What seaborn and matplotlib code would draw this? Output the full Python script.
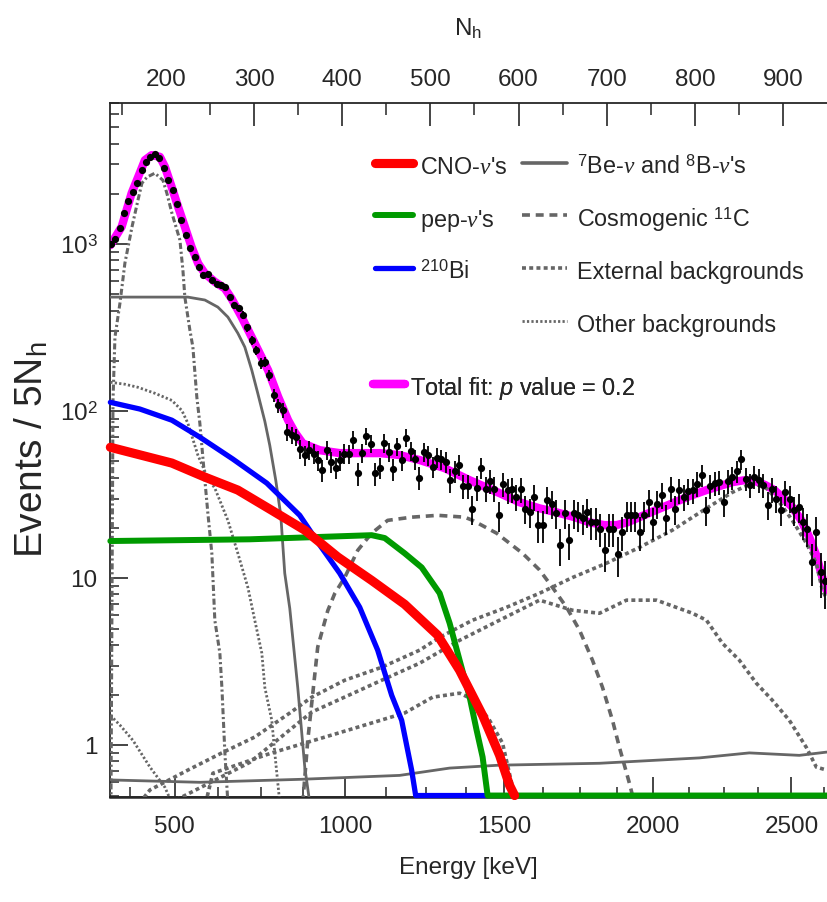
import numpy as np
import matplotlib
matplotlib.use("Agg")
import matplotlib.pyplot as plt
from matplotlib.lines import Line2D
from matplotlib.ticker import FixedLocator, FuncFormatter, NullFormatter
from matplotlib import font_manager
import seaborn as sns

# ------------------------------------------------------------------ data
# measured spectrum (bins of 5 N_h, bin centres)
nh_bins = np.arange(137.5, 950.0, 5.0)
counts = np.array([
    1009, 1081, 1241, 1541, 1819, 2058, 2330, 2775, 3085, 3337,
    3461, 3258, 2840, 2418, 2106, 1737, 1393, 1133, 942, 840,
    732, 652, 667, 609, 581, 568, 555, 484, 431, 412,
    376, 317, 266, 232, 193, 197, 164,
    124.7, 108.6, 101.4, 75.2, 71.8, 70.2, 59.7, 54.5, 58.4, 55.8,
    50.9, 44.3, 58.4, 49.7, 46.0, 50.9, 55.8, 55.4, 67.6, 42.4,
    56.3, 70.8, 64.0, 42.4, 46.0, 64.6, 57.1, 44.8, 61.7, 50.9,
    69.5, 57.8, 51.6, 39.9, 57.1, 54.3, 46.5, 52.8, 51.4, 49.7,
    38.7, 44.0, 47.6, 35.6, 35.6, 25.8, 34.9, 46.0, 34.4, 38.3,
    34.4, 23.8, 36.6, 33.6, 34.0, 30.7, 34.0, 26.1, 24.9, 30.7,
    20.7, 20.7, 29.6, 28.0, 24.6,
    15.8, 24.6, 16.9, 24.6, 23.8, 22.8, 25.0, 21.7, 21.7, 19.8,
    14.8, 19.8, 19.8, 13.9, 18.9, 23.8, 23.8, 23.8, 18.9, 23.8,
    28.6, 21.7, 28.0, 31.4, 22.8, 34.4, 25.8, 33.6, 30.7, 33.3,
    33.6, 36.9, 41.4, 25.5, 35.6, 37.2, 37.6, 28.6, 38.3, 40.1,
    43.7, 51.4, 39.5, 36.1, 40.5, 38.6, 36.1, 27.4, 34.0, 30.0,
    25.5, 32.6, 30.0, 25.5, 26.7, 21.7, 19.8, 12.5, 18.9, 10.9,
    9.6,
])

# total fit
fit_nh = [137.0, 149.8, 161.1, 168.6, 176.2, 183.8, 193.2, 198.9, 206.5, 213.9,
          221.5, 229.1, 236.6, 244.2, 255.5, 266.9, 274.4, 285.8, 297.1, 304.6,
          315.9, 327.3, 338.6, 346.2, 355.2, 374.5, 397.2, 442.5, 465.1, 487.8,
          516.1, 544.5, 578.5, 601.1, 623.8, 643.1, 663.4, 680.4, 697.4, 711.0,
          723.5, 737.1, 755.2, 774.5, 793.7, 813.0, 827.7, 842.5, 856.1, 868.6,
          879.9, 890.1, 900.3, 910.5, 920.7, 929.7, 937.7, 944.5, 949.0]
fit_val = [986, 1270, 2018, 2529, 3185, 3412, 3333, 2904, 2203, 1671,
           1270, 963, 766, 668, 595, 543, 473, 367, 279, 232,
           176, 122, 88.3, 74.8, 64.2, 58.4, 56.1, 56.1, 54.6, 51.0,
           45.6, 38.6, 32.3, 28.5, 26.2, 24.8, 23.2, 21.6, 20.8, 20.8,
           21.6, 23.2, 25.5, 28.1, 31.0, 33.7, 35.6, 37.6, 38.6, 38.1,
           36.1, 33.7, 30.1, 26.6, 22.2, 17.6, 13.7, 10.1, 8.5]

# CNO neutrinos
cno_nh = [137.0, 206.8, 244.2, 281.6, 320.1, 357.5, 394.9, 433.4, 470.8, 508.2,
          533.1, 559.2, 578.5, 589.8, 595.5]
cno_val = [60.8, 48.9, 40.3, 33.7, 25.5, 19.4, 13.4, 9.7, 6.98, 4.56,
           2.81, 1.51, 0.87, 0.575, 0.5]

# pep neutrinos
pep_nh = [137.0, 295.2, 433.4, 448.2, 470.8, 490.1, 510.5, 521.8, 533.1, 544.5,
          552.4, 559.2, 564.9, 949.5]
pep_val = [16.7, 17.1, 18.1, 17.4, 14.1, 11.6, 8.13, 5.38, 3.23, 1.94,
           1.23, 0.85, 0.5, 0.5]

# 210Bi
bi_nh = [137.0, 170.5, 206.8, 238.5, 275.9, 314.4, 351.8, 374.5, 397.2, 419.8,
         440.2, 456.1, 467.4, 478.7, 483.3, 565.0]
bi_val = [113, 103, 88.3, 69.9, 51.7, 37.1, 23.8, 15.8, 10.7, 6.7,
          3.71, 1.99, 1.41, 0.71, 0.5, 0.5]

# 7Be neutrinos
be7_nh = [137.0, 224.9, 244.2, 258.9, 270.3, 281.6, 289.5, 297.4, 304.2, 312.2,
          317.8, 324.6, 330.3, 334.8, 340.5, 349.6, 357.5, 363.2]
be7_val = [482, 482, 463, 420, 366, 293, 242, 176, 128, 87,
           62.5, 38.6, 23.8, 10.7, 6.6, 2.2, 0.74, 0.45]

# 8B neutrinos
b8_nh = [137.0, 238.5, 351.8, 465.1, 521.8, 578.5, 691.8, 805.1, 861.7, 918.4, 949.5]
b8_val = [0.62, 0.60, 0.625, 0.66, 0.73, 0.76, 0.78, 0.84, 0.90, 0.87, 0.91]

# cosmogenic 11C
c11_nh = [355.2, 360.9, 372.2, 383.6, 391.5, 402.8, 417.6, 433.4, 451.5, 478.7,
          508.2, 538.8, 547.9, 575.1, 604.5, 623.8, 638.5, 654.4, 669.1, 683.8,
          695.2, 706.5, 714.4, 725.8, 731.4]
c11_val = [0.45, 1.07, 3.87, 6.4, 8.1, 10.1, 14.7, 18.6, 22.2, 23.2,
           23.8, 23.2, 22.2, 18.6, 14.1, 11.2, 8.8, 6.7, 4.89, 3.23,
           2.22, 1.41, 0.97, 0.59, 0.45]

# external backgrounds: 208Tl, 214Bi, 40K
tl_nh = [170.0, 181.9, 224.9, 263.5, 300.8, 340.5, 365.4, 402.8, 444.7, 487.8,
         510.5, 547.9, 586.4, 623.8, 661.2, 699.7, 737.1, 774.5, 813.0, 842.5,
         865.2, 881.0, 895.8, 910.5, 926.4, 937.7, 944.5, 949.5]
tl_val = [0.45, 0.54, 0.71, 0.90, 1.12, 1.56, 1.94, 2.45, 2.93, 3.71,
          4.43, 5.61, 6.70, 8.13, 10.1, 12.3, 15.3, 19.4, 26.2, 32.7,
          37.1, 34.6, 28.5, 22.2, 16.2, 12.3, 8.5, 7.5]
bi214_nh = [204.5, 295.2, 365.4, 444.7, 487.8, 533.1, 578.5, 623.8, 661.2, 691.8,
            722.4, 756.4, 797.2, 813.0, 831.2, 850.4, 869.7, 887.8, 907.1, 926.4,
            937.7, 949.5]
bi214_val = [0.45, 0.79, 1.58, 2.45, 3.10, 4.25, 5.61, 7.39, 6.43, 6.17,
             7.39, 7.39, 6.17, 5.61, 4.08, 3.23, 2.35, 1.86, 1.41, 0.97,
             0.74, 0.71]
k40_nh = [245.0, 253.3, 320.1, 394.9, 470.8, 502.5, 533.1, 550.1, 567.1, 581.8,
          593.2, 597.7]
k40_val = [0.45, 0.68, 0.90, 1.18, 1.56, 1.94, 2.05, 1.86, 1.41, 1.03,
           0.56, 0.45]

# other backgrounds: 210Po, 85Kr, low-energy pile-up
po_nh = [137.7, 140.0, 142.2, 147.9, 153.5, 161.5, 168.3, 172.8, 178.5, 187.5,
         196.6, 201.1, 206.8, 210.2, 215.9, 219.3, 221.5, 227.2, 230.6, 235.1,
         238.5, 244.2, 247.6, 252.1, 255.5, 261.2, 263.5, 266.9, 270.3]
po_val = [0.45, 116, 277, 444, 770, 1265, 1834, 2318, 2518, 2661,
          2415, 2019, 1534, 1336, 1057, 698, 482, 306, 242, 121,
          84.7, 38.6, 24.5, 14.1, 5.6, 3.56, 2.22, 0.90, 0.45]
kr_nh = [137.0, 153.5, 168.3, 187.5, 206.8, 218.1, 224.9, 236.3, 247.6, 255.5,
         270.3, 281.6, 293.0, 300.8, 308.8, 312.2, 320.1, 323.5, 329.2]
kr_val = [149, 145, 139, 128, 116, 101, 84.7, 54.5, 39.7, 34.6,
          22.2, 14.1, 8.8, 5.6, 3.56, 2.22, 1.41, 0.90, 0.45]
pu_nh = [137.0, 147.9, 162.6, 181.9, 198.9, 206.8]
pu_val = [1.51, 1.32, 1.07, 0.74, 0.56, 0.45]

# axis definitions
nh_major = [200, 300, 400, 500, 600, 700, 800, 900]
nh_minor = [150, 250, 350, 450, 550, 650, 750, 850, 950]
e_major = [500, 1000, 1500, 2000, 2500]
e_minor = [375, 625, 750, 875, 1125, 1250, 1375, 1625, 1750, 1875,
           2125, 2250, 2375, 2625]
# energy scale calibration N_h = A + B*E + C*E^2
CAL_A, CAL_B, CAL_C = 4.81, 0.4225, -2.425e-5

# ------------------------------------------------------------------ style
sns.set_theme(style="ticks")
names = {f.name for f in font_manager.fontManager.ttflist}
if "Liberation Sans Narrow" in names:
    FONT, S = "Liberation Sans Narrow", 1.18
elif "Liberation Sans" in names:
    FONT, S = "Liberation Sans", 1.0
else:
    FONT, S = "DejaVu Sans", 0.92
plt.rcParams["font.family"] = [FONT, "DejaVu Sans"]
plt.rcParams["mathtext.fontset"] = "custom"
plt.rcParams["mathtext.rm"] = FONT
plt.rcParams["mathtext.it"] = "Liberation Serif:italic"
plt.rcParams["mathtext.sf"] = FONT + ":italic"
plt.rcParams["axes.linewidth"] = 1.3

RED, GREEN, BLUE, MAG, GRAY = "#ff0000", "#009a00", "#0000ff", "#ff00ff", "#666666"
DASH_C11 = (0, (2.2, 1.6))
DASH_EXT = (0, (1.1, 0.9))
DASH_OTH = (0, (0.8, 0.8))
DASH_PO = (0, (2.0, 0.9, 0.7, 0.9))

W, H = 827, 902
fig = plt.figure(figsize=(W / 100, H / 100), dpi=100)
ax = fig.add_axes([110 / W, 1 - 797 / H, (W - 110) / W, (797 - 103) / H])
ax.set_yscale("log")
ax.set_xlim(136.6, 949.8)
ax.set_ylim(0.49, 7000)


def curve(x, y, color, lw, ls="-", z=3, clip=True):
    sns.lineplot(x=x, y=y, ax=ax, color=color, linewidth=lw, linestyle=ls,
                 sort=False, estimator=None, errorbar=None, legend=False,
                 zorder=z, clip_on=clip, solid_joinstyle="round")


curve(fit_nh, fit_val, MAG, 6.0, z=2)
curve(b8_nh, b8_val, GRAY, 2.0)
curve(be7_nh, be7_val, GRAY, 2.0)
curve(c11_nh, c11_val, GRAY, 2.6, DASH_C11)
curve(tl_nh, tl_val, GRAY, 2.6, DASH_EXT)
curve(bi214_nh, bi214_val, GRAY, 2.6, DASH_EXT)
curve(k40_nh, k40_val, GRAY, 2.6, DASH_EXT)
curve(po_nh, po_val, GRAY, 2.2, DASH_PO)
curve(kr_nh, kr_val, GRAY, 2.0, DASH_OTH)
curve(pu_nh, pu_val, GRAY, 2.0, DASH_OTH)
curve(bi_nh, bi_val, BLUE, 3.8, z=4, clip=False)
curve(pep_nh, pep_val, GREEN, 4.3, z=4.2, clip=False)
curve(cno_nh, cno_val, RED, 6.6, z=4.4, clip=False)

ax.errorbar(nh_bins, counts, yerr=np.sqrt(counts), fmt="none", ecolor="black",
            elinewidth=1.3, capsize=0, zorder=6)
sns.scatterplot(x=nh_bins, y=counts, ax=ax, color="black", s=27, linewidth=0,
                zorder=7, legend=False)

# ------------------------------------------------------------------ axes
TICK_FS = 17.5 * S
ax.spines["right"].set_visible(False)
ax.yaxis.set_major_locator(FixedLocator([1, 10, 100, 1000]))
ax.yaxis.set_minor_locator(FixedLocator(
    [m * d for d in (0.1, 1, 10, 100, 1000) for m in range(2, 10)]))
ax.yaxis.set_major_formatter(FuncFormatter(
    lambda v, p: {1: "1", 10: "10", 100: "$10^{2}$", 1000: "$10^{3}$"}.get(int(round(v)), "")))
ax.yaxis.set_minor_formatter(NullFormatter())
ax.tick_params(axis="y", which="major", direction="in", length=13, width=1.2,
               pad=9, labelsize=TICK_FS, left=True, right=False)
ax.tick_params(axis="y", which="minor", direction="in", length=6.5, width=1.1,
               left=True, right=False)

ax.xaxis.set_ticks_position("top")
ax.xaxis.set_label_position("top")
ax.xaxis.set_major_locator(FixedLocator(nh_major))
ax.xaxis.set_minor_locator(FixedLocator(nh_minor))
ax.tick_params(axis="x", which="major", direction="in", length=16.5, width=1.2,
               pad=9, labelsize=TICK_FS, top=True, bottom=False)
ax.tick_params(axis="x", which="minor", direction="in", length=8.5, width=1.1,
               top=True, bottom=False)
ax.set_xlabel("N$_\\mathrm{h}$", fontsize=TICK_FS)
ax.xaxis.set_label_coords(0.5, 1.097)


def e_to_nh(e):
    e = np.asarray(e, dtype=float)
    return CAL_A + CAL_B * e + CAL_C * e ** 2


def nh_to_e(n):
    n = np.asarray(n, dtype=float)
    disc = np.clip(CAL_B ** 2 - 4 * CAL_C * (CAL_A - n), 0, None)
    return (-CAL_B + np.sqrt(disc)) / (2 * CAL_C)


sec = ax.secondary_xaxis("bottom", functions=(nh_to_e, e_to_nh))
sec.xaxis.set_major_locator(FixedLocator(e_major))
sec.xaxis.set_minor_locator(FixedLocator(e_minor))
sec.xaxis.set_minor_formatter(NullFormatter())
sec.tick_params(axis="x", which="major", direction="in", length=14.5, width=1.2,
                pad=13.5, labelsize=TICK_FS)
sec.tick_params(axis="x", which="minor", direction="in", length=7.2, width=1.1)
sec.spines["bottom"].set_linewidth(1.8)
sec.set_xlabel("Energy [keV]", fontsize=TICK_FS)
sec.xaxis.set_label_coords(0.5, (797 - 857) / 694, transform=ax.transAxes)

ax.set_ylabel("Events / 5N$_\\mathrm{h}$", fontsize=28)
ax.yaxis.set_label_coords(-0.083, 0.5)

# ------------------------------------------------------------------ legend
LEG_FS = 16.8 * S
fs_px = LEG_FS * 100 / 72


def make_legend(handles, labels, x_px, row1_px, hlen_px, pad_px):
    hh = 1.6
    row_h = hh * fs_px
    leg = ax.legend(handles, labels, loc="upper left",
                    bbox_to_anchor=(x_px / W, 1 - (row1_px + 6 - row_h / 2) / H),
                    bbox_transform=fig.transFigure, frameon=False,
                    fontsize=LEG_FS, handlelength=hlen_px / fs_px,
                    handletextpad=pad_px / fs_px, handleheight=hh,
                    labelspacing=(60 - row_h) / fs_px, borderpad=0,
                    borderaxespad=0)
    ax.add_artist(leg)
    return leg


make_legend([Line2D([], [], color=RED, lw=6.6),
             Line2D([], [], color=GREEN, lw=4.3),
             Line2D([], [], color=BLUE, lw=3.8)],
            ["CNO-$\\nu$'s", "pep-$\\nu$'s", "$^{210}$Bi"],
            375, 164, 38, 7)
make_legend([Line2D([], [], color=GRAY, lw=2.6),
             Line2D([], [], color=GRAY, lw=2.6, ls=DASH_C11),
             Line2D([], [], color=GRAY, lw=2.6, ls=DASH_EXT),
             Line2D([], [], color=GRAY, lw=2.0, ls=DASH_OTH)],
            ["$^{7}$Be-$\\nu$ and $^{8}$B-$\\nu$'s", "Cosmogenic $^{11}$C",
             "External backgrounds", "Other backgrounds"],
            522, 164, 45, 10)
make_legend([Line2D([], [], color=MAG, lw=6.0)],
            ["Total fit: $\\mathsf{p}$ value = 0.2"],
            373, 385, 32, 5)

fig.savefig("out.png", dpi=100, facecolor="white")
